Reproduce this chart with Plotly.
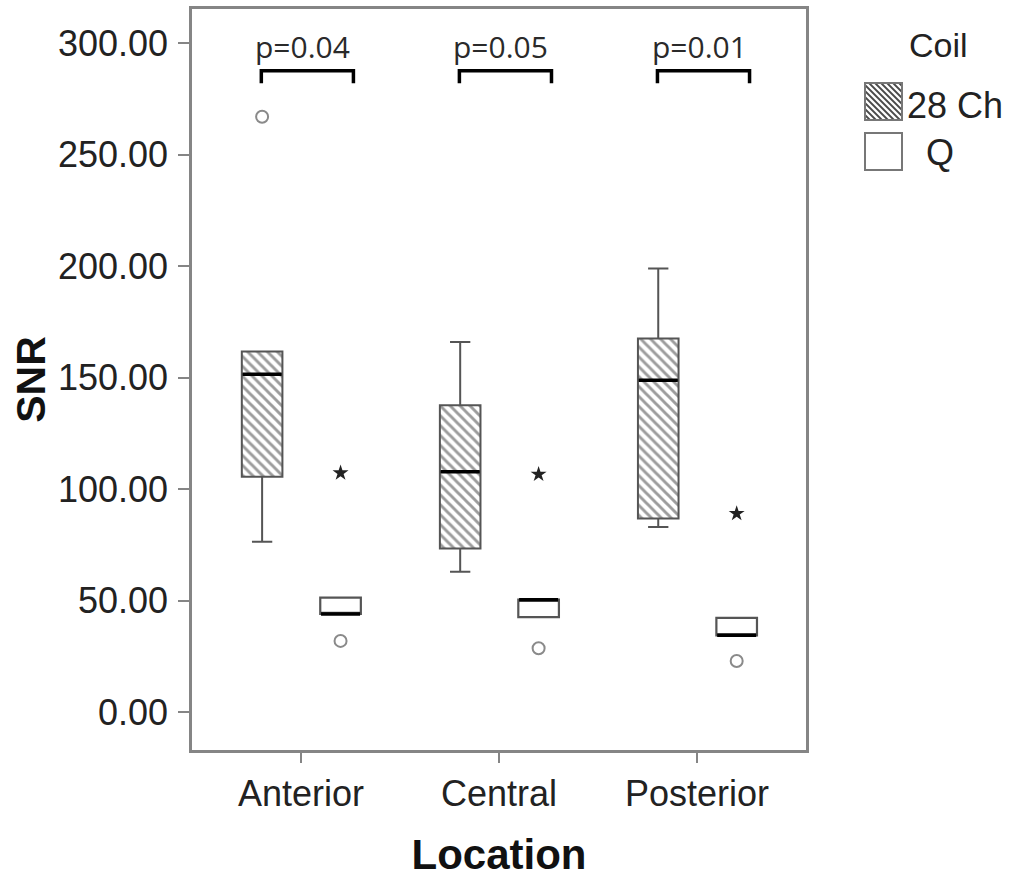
import plotly.graph_objects as go

# ---------------- data ----------------
categories = ["Anterior", "Central", "Posterior"]
coils = ["28 Ch", "Q"]

ch28_lower = [76.5, 63.0, 83.1]
ch28_q1 = [105.6, 73.4, 86.9]
ch28_median = [151.5, 107.8, 148.9]
ch28_q3 = [161.7, 137.7, 167.6]
ch28_upper = [161.7, 166.0, 199.0]
ch28_outlier_cat = ["Anterior"]
ch28_outlier_val = [267.0]

q_lower = [44.1, 42.7, 34.5]
q_q1 = [44.1, 42.7, 34.5]
q_median = [44.1, 50.5, 34.5]
q_q3 = [51.4, 50.5, 42.3]
q_upper = [51.4, 50.5, 42.3]
q_outlier_circle = [32.0, 28.7, 23.0]
q_outlier_star = [107.3, 106.7, 89.1]

p_values = ["p=0.04", "p=0.05", "p=0.01"]

y_ticks = [0, 50, 100, 150, 200, 250, 300]

# ---------------- styling / layout constants ----------------
FONT = "Liberation Sans, Arial, sans-serif"
OFF = {"28 Ch": -0.196, "Q": 0.2}
BOXW = 0.205
GRAY = "#555555"
FRAME = "#858585"

# body margin is removed by post_script, so the figure fills the window
W, H = 1019, 884
SCR_L, SCR_R, SCR_T, SCR_B = 192, 806, 9, 750
L = SCR_L
R = W - SCR_R
T = SCR_T
B = H - SCR_B
PW, PH = W - L - R, H - T - B

cat_idx = {c: i for i, c in enumerate(categories)}
pos28 = [cat_idx[c] + OFF["28 Ch"] for c in categories]
posQ = [cat_idx[c] + OFF["Q"] for c in categories]

fig = go.Figure()

# hatched fill for 28 Ch boxes (bars spanning Q1..Q3)
fig.add_trace(go.Bar(
    x=pos28, base=ch28_q1, y=[b - a for a, b in zip(ch28_q1, ch28_q3)],
    width=BOXW,
    marker=dict(color="white", line=dict(color=GRAY, width=0),
                pattern=dict(shape="\\", fgcolor="#3a3a3a", bgcolor="white",
                             size=7, solidity=0.42)),
    showlegend=False, hoverinfo="skip",
))

# box outlines + whiskers
fig.add_trace(go.Box(
    x=pos28, q1=ch28_q1, median=ch28_median, q3=ch28_q3,
    lowerfence=ch28_lower, upperfence=ch28_upper,
    orientation="v", width=BOXW, whiskerwidth=0.5,
    fillcolor="rgba(0,0,0,0)", line=dict(color=GRAY, width=2),
    name="28 Ch", showlegend=False,
))
fig.add_trace(go.Box(
    x=posQ, q1=q_q1, median=q_median, q3=q_q3,
    lowerfence=q_lower, upperfence=q_upper,
    orientation="v", width=BOXW, whiskerwidth=0.5,
    fillcolor="white", line=dict(color=GRAY, width=2.2),
    name="Q", showlegend=False,
))

# thick black median lines
mx, my = [], []
for p, m in list(zip(pos28, ch28_median)) + list(zip(posQ, q_median)):
    mx += [p - BOXW / 2 + 0.004, p + BOXW / 2 - 0.004, None]
    my += [m, m, None]
fig.add_trace(go.Scatter(x=mx, y=my, mode="lines",
                         line=dict(color="black", width=3.5),
                         showlegend=False, hoverinfo="skip"))

# outliers
fig.add_trace(go.Scatter(
    x=[cat_idx[c] + OFF["28 Ch"] for c in ch28_outlier_cat], y=ch28_outlier_val,
    mode="markers", marker=dict(symbol="circle-open", size=12, color="#8a8a8a",
                                line=dict(width=2, color="#8a8a8a")),
    showlegend=False))
fig.add_trace(go.Scatter(
    x=posQ, y=q_outlier_circle, mode="markers",
    marker=dict(symbol="circle-open", size=12, color="#8a8a8a",
                line=dict(width=2, color="#8a8a8a")),
    showlegend=False))
fig.add_trace(go.Scatter(
    x=posQ, y=q_outlier_star, mode="markers",
    marker=dict(symbol="star", size=12, color="#222222"),
    showlegend=False))

# significance brackets
BR_L, BR_R, BR_Y0, BR_Y1 = -0.2, 0.265, 282.0, 287.6
bx, by = [], []
for c in categories:
    i = cat_idx[c]
    bx += [i + BR_L, i + BR_L, i + BR_R, i + BR_R, None]
    by += [BR_Y0, BR_Y1, BR_Y1, BR_Y0, None]
fig.add_trace(go.Scatter(x=bx, y=by, mode="lines",
                         line=dict(color="black", width=3.5),
                         showlegend=False, hoverinfo="skip"))

annotations = []
for c, p in zip(categories, p_values):
    annotations.append(dict(
        x=cat_idx[c] + 0.01, y=298.4, xref="x", yref="y",
        text=p, showarrow=False, xanchor="center", yanchor="middle",
        font=dict(family="Open Sans", size=30, color="#2a2a2a")))


# ---------------- manual legend (screen px -> paper) ----------------
def px(xs):
    return (xs - SCR_L) / PW


def py(ys):
    return (SCR_B - ys) / PH


shapes = []
SW = 37
sw_left = 865
sw_tops = {"28 Ch": 83, "Q": 133}
for coil in coils:
    top = sw_tops[coil]
    shapes.append(dict(type="rect", xref="paper", yref="paper",
                       xsizemode="pixel", ysizemode="pixel",
                       xanchor=px(sw_left), yanchor=py(top + SW),
                       x0=0, x1=SW, y0=0, y1=SW,
                       line=dict(color="#777777", width=2), fillcolor="white",
                       layer="above"))
top = sw_tops["28 Ch"]
c = 5
while c < 2 * SW:
    if c <= SW:
        x0, y0, x1, y1 = 0, c, c, 0
    else:
        x0, y0, x1, y1 = c - SW, SW, SW, c - SW
    shapes.append(dict(type="line", xref="paper", yref="paper",
                       xsizemode="pixel", ysizemode="pixel",
                       xanchor=px(sw_left), yanchor=py(top + SW),
                       x0=x0, y0=y0, x1=x1, y1=y1,
                       line=dict(color="#4a4a4a", width=1.8), layer="above"))
    c += 6
shapes.append(dict(type="rect", xref="paper", yref="paper",
                   xsizemode="pixel", ysizemode="pixel",
                   xanchor=px(sw_left), yanchor=py(top + SW),
                   x0=0, x1=SW, y0=0, y1=SW,
                   line=dict(color="#777777", width=2), fillcolor="rgba(0,0,0,0)",
                   layer="above"))

annotations.append(dict(x=px(938), y=py(45), xref="paper", yref="paper",
                        text="Coil", showarrow=False, xanchor="center", yanchor="middle",
                        font=dict(family=FONT, size=34, color="#222222")))
annotations.append(dict(x=px(905), y=py(105), xref="paper", yref="paper",
                        text="28 Ch", showarrow=False, xanchor="left", yanchor="middle",
                        font=dict(family=FONT, size=36, color="#222222")))
annotations.append(dict(x=px(924), y=py(153), xref="paper", yref="paper",
                        text="Q", showarrow=False, xanchor="left", yanchor="middle",
                        font=dict(family=FONT, size=36, color="#222222")))

fig.update_layout(
    width=W, height=H,
    margin=dict(l=L, r=R, t=T, b=B, autoexpand=False),
    paper_bgcolor="white", plot_bgcolor="white",
    barmode="overlay", boxmode="overlay",
    showlegend=False,
    shapes=shapes, annotations=annotations,
    font=dict(family=FONT, color="#222222"),
)
fig.update_xaxes(
    range=[-0.55, 2.55], tickvals=list(range(len(categories))), ticktext=categories,
    showgrid=False, zeroline=False, showline=True, mirror=True,
    linecolor=FRAME, linewidth=2.5, ticks="outside", ticklen=10, tickwidth=2,
    tickcolor=FRAME, tickfont=dict(family=FONT, size=36, color="#222222"),
    title=dict(text="Location", font=dict(family=FONT, size=42, color="#111111", weight="bold"),
               standoff=27),
)
fig.update_yaxes(
    range=[-16.9, 315.3], tickvals=y_ticks, tickformat=".2f",
    showgrid=False, zeroline=False, showline=True, mirror=True,
    linecolor=FRAME, linewidth=2.5, ticks="outside", ticklen=11, tickwidth=2,
    tickcolor=FRAME, tickfont=dict(family=FONT, size=36, color="#222222"),
    ticklabelstandoff=3,
    title=dict(text="SNR", font=dict(family=FONT, size=41, color="#111111", weight="bold"),
               standoff=0),
)

fig.write_html("out.html", config={"displayModeBar": False},
               post_script="document.body.style.margin='0';document.body.style.padding='0';")
